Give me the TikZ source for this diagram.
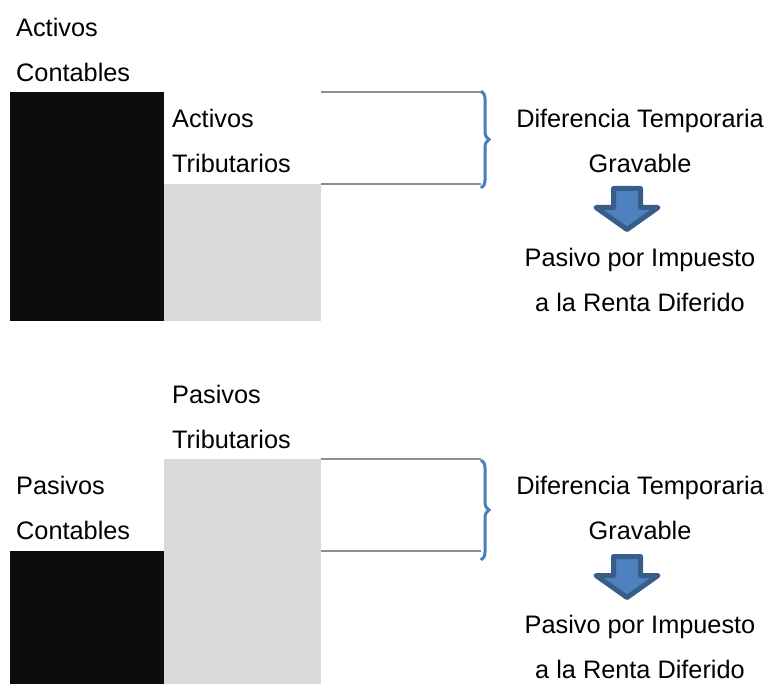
\documentclass[tikz,border=0pt]{standalone}
\usepackage{fontspec}
\setmainfont{Liberation Sans}
\usetikzlibrary{positioning,decorations.pathreplacing}
\definecolor{barblack}{HTML}{0D0D0D}
\definecolor{bargray}{HTML}{D9D9D9}
\definecolor{linegray}{HTML}{8E8E8E}
\definecolor{braceblue}{HTML}{4A7EBB}
\definecolor{arrowfill}{HTML}{4F81BD}
\definecolor{arrowedge}{HTML}{385D8A}

\begin{document}
\begin{tikzpicture}[
        x=1pt, y=-1pt,
        txt/.style={font=\fontsize{25.3}{30}\selectfont, inner sep=0pt, text height=27pt, text depth=18pt},
        darkbar/.style={fill=barblack, inner sep=0pt, anchor=north west},
        lightbar/.style={fill=bargray, inner sep=0pt, anchor=north west},
        level/.style={draw=linegray, line width=2pt},
        tempbrace/.style={draw=braceblue, line width=3pt, decorate, decoration={brace, amplitude=8pt}},
        downarrow/.pic={
            \draw[draw=arrowedge, fill=arrowfill, line width=5pt, line join=round]
                (-13.5,0) -- (13.5,0) -- (13.5,19) -- (31,19) -- (0,41) -- (-31,19) -- (-13.5,19) -- cycle;
        }
    ]
        \useasboundingbox (0,0) rectangle (766,684);

        % Activos: contables vs tributarios
        \node[darkbar, minimum width=154pt, minimum height=229pt] (darkA) at (10,92) {};
        \node[lightbar, minimum width=157pt, minimum height=137pt] (lightA) at (164,184) {};
        \node[txt, anchor=north west] (ac1) at (16,9) {Activos};
        \node[txt, anchor=north west] (ac2) at (ac1.south west) {Contables};
        \node[txt, anchor=north west] (at1) at (172,100) {Activos};
        \node[txt, anchor=north west] (at2) at (at1.south west) {Tributarios};

        % Pasivos: contables vs tributarios
        \node[lightbar, minimum width=157pt, minimum height=225pt] (lightB) at (164,459) {};
        \node[darkbar, minimum width=154pt, minimum height=133pt] (darkB) at (10,551) {};
        \node[txt, anchor=north west] (pt1) at (172,376) {Pasivos};
        \node[txt, anchor=north west] (pt2) at (pt1.south west) {Tributarios};
        \node[txt, anchor=north west] (pc1) at (16,467) {Pasivos};
        \node[txt, anchor=north west] (pc2) at (pc1.south west) {Contables};

        % Diferencias y resultado
        \node[txt, anchor=north] (dtA1) at (640,100) {Diferencia Temporaria};
        \node[txt, below=0pt of dtA1] (dtA2) {Gravable};
        \pic (arrA) at (627,188.5) {downarrow};
        \node[txt, anchor=north] (piA1) at (640,239) {Pasivo por Impuesto};
        \node[txt, below=0pt of piA1] (piA2) {a la Renta Diferido};

        \node[txt, anchor=north] (dtB1) at (640,467) {Diferencia Temporaria};
        \node[txt, below=0pt of dtB1] (dtB2) {Gravable};
        \pic (arrB) at (627,556.5) {downarrow};
        \node[txt, anchor=north] (piB1) at (640,606) {Pasivo por Impuesto};
        \node[txt, below=0pt of piB1] (piB2) {a la Renta Diferido};

        % Lineas de nivel y llaves
        \coordinate (brA1) at (481,91);
        \coordinate (brA2) at (481,188);
        \coordinate (brB1) at (481,460);
        \coordinate (brB2) at (481,560);
        \draw[level] (darkA.north -| lightA.east) -- (darkA.north -| brA1);
        \draw[level] (lightA.north east) -- (lightA.north east -| brA1);
        \draw[level] (lightB.north east) -- (lightB.north east -| brB1);
        \draw[level] (darkB.north -| lightB.east) -- (darkB.north -| brB1);
        \draw[tempbrace] (brA1) -- (brA2);
        \draw[tempbrace] (brB1) -- (brB2);

    \end{tikzpicture}
\end{document}
